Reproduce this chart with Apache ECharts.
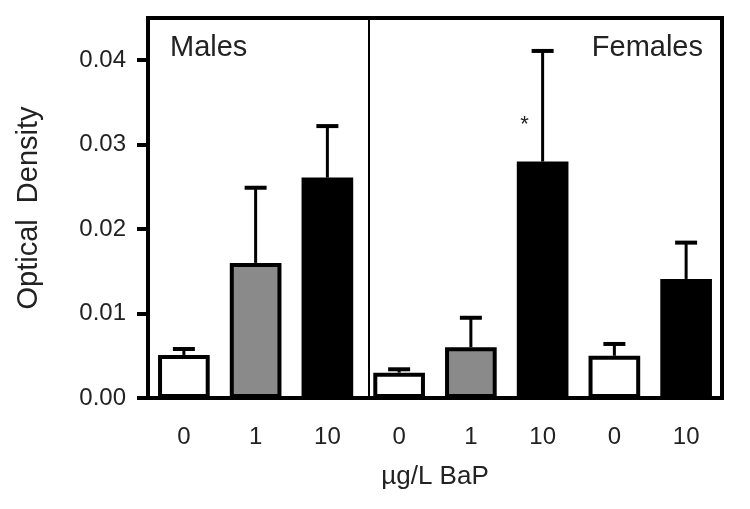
<!DOCTYPE html>
<html>
<head>
<meta charset="utf-8">
<script src="https://cdn.jsdelivr.net/npm/echarts@6/dist/echarts.min.js"></script>
<style>
  html, body { margin: 0; padding: 0; background: #fff; }
  #chart { width: 750px; height: 509px; }
</style>
</head>
<body>
<div id="chart"></div>
<script>
// dose groups (µg/L BaP), first three are males, rest females
const doses = ["0", "1", "10", "0", "1", "10", "0", "10"];
const means = [0.0051, 0.0160, 0.0261, 0.0030, 0.0060, 0.0280, 0.0050, 0.0141];
const upper = [0.0058, 0.0249, 0.0322, 0.0034, 0.0095, 0.0411, 0.0064, 0.0184];
const yTicks = [0, 0.01, 0.02, 0.03, 0.04];
const starred = [5];
const groupSplit = 3.07; // boundary between Males and Females panels

const fillFor = { "0": "#ffffff", "1": "#8a8a8a", "10": "#000000" };
const font = "'Liberation Sans', Arial, Helvetica, sans-serif";

const chart = echarts.init(document.getElementById("chart"));
chart.setOption({
  animation: false,
  backgroundColor: "#fff",
  grid: {
    left: 148, right: 28, top: 18, bottom: 111,
    show: true, borderColor: "#000", borderWidth: 4, backgroundColor: "transparent"
  },
  xAxis: [
    {
      type: "category",
      data: doses,
      axisLine: { lineStyle: { color: "#000", width: 4 } },
      axisTick: { alignWithLabel: true, length: 10, lineStyle: { color: "#000", width: 4 } },
      axisLabel: { color: "#222", fontSize: 24, fontFamily: font, margin: 27 },
      name: "µg/L BaP",
      nameLocation: "middle",
      nameGap: 66,
      nameTextStyle: { color: "#222", fontSize: 26, fontFamily: font }
    },
    { type: "value", min: 0, max: 8, show: false }
  ],
  yAxis: {
    type: "value",
    min: 0,
    max: 0.045,
    interval: 0.01,
    splitLine: { show: false },
    axisLine: { show: true, lineStyle: { color: "#000", width: 4 } },
    axisTick: { show: true, length: 11, customValues: yTicks, lineStyle: { color: "#000", width: 4 } },
    axisLabel: {
      color: "#222", fontSize: 24, fontFamily: font, margin: 22,
      customValues: yTicks,
      formatter: v => v.toFixed(2)
    },
    name: "Optical  Density",
    nameLocation: "middle",
    nameGap: 105,
    nameRotate: 90,
    nameTextStyle: { color: "#222", fontSize: 29, fontFamily: font }
  },
  graphic: [
    { type: "text", left: 170, top: 33, style: { text: "Males", fontSize: 29, fontFamily: font, fill: "#222" } },
    { type: "text", right: 47, top: 33, style: { text: "Females", fontSize: 29, fontFamily: font, fill: "#222" } }
  ],
  series: [
    {
      type: "bar",
      barWidth: "72%",
      data: means.map((v, i) => ({
        value: v,
        itemStyle: { color: fillFor[doses[i]], borderColor: "#000", borderWidth: 4 }
      })),
      z: 3
    },
    {
      type: "custom",
      z: 2,
      data: means.map((v, i) => [i, v, upper[i]]),
      renderItem: (params, api) => {
        const base = api.coord([api.value(0), api.value(1)]);
        const top = api.coord([api.value(0), api.value(2)]);
        const half = 11;
        const children = [
          { type: "line", shape: { x1: base[0], y1: base[1], x2: top[0], y2: top[1] }, style: { stroke: "#000", lineWidth: 3 } },
          { type: "line", shape: { x1: top[0] - half, y1: top[1], x2: top[0] + half, y2: top[1] }, style: { stroke: "#000", lineWidth: 4 } }
        ];
        if (starred.includes(api.value(0))) {
          const mark = api.coord([api.value(0), (api.value(1) + api.value(2)) / 2]);
          children.push({
            type: "text",
            style: { text: "*", x: mark[0] - 18, y: mark[1] + 8, fontSize: 22, fontFamily: font, fill: "#222", align: "center", verticalAlign: "top" }
          });
        }
        return { type: "group", children };
      }
    },
    {
      type: "line",
      xAxisIndex: 1,
      data: [],
      markLine: {
        silent: true,
        symbol: "none",
        label: { show: false },
        lineStyle: { color: "#000", width: 2, type: "solid" },
        data: [{ xAxis: groupSplit }]
      }
    }
  ]
});
</script>
</body>
</html>
